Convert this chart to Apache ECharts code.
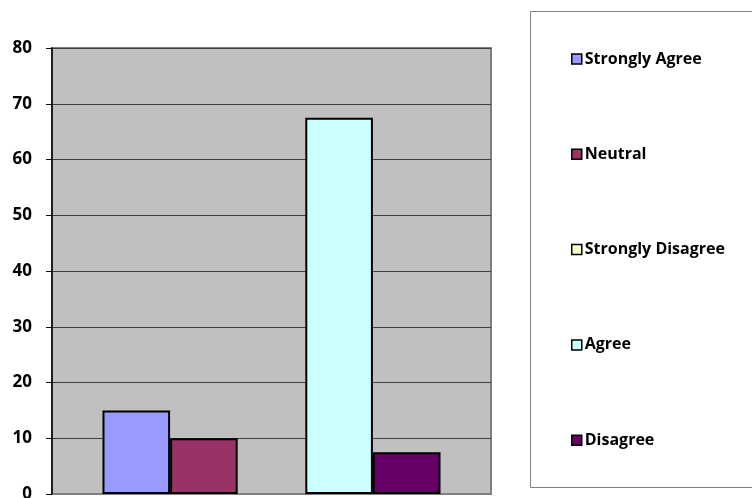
<!DOCTYPE html>
<html>
<head>
<meta charset="utf-8">
<script src="https://cdn.jsdelivr.net/npm/echarts@6/dist/echarts.min.js"></script>
<style>
  html, body { margin: 0; padding: 0; background: #ffffff; }
  #chart { width: 752px; height: 498px; }
</style>
</head>
<body>
<div id="chart"></div>
<script>
// Survey responses, one group of bars
const categories = [''];
const seriesNames = ['Strongly Agree', 'Neutral', 'Strongly Disagree', 'Agree', 'Disagree'];
const seriesValues = [[15], [10], [0], [67.5], [7.5]];
const seriesColors = ['#9999ff', '#993366', '#ffffcc', '#ccffff', '#660066'];
const yTicks = [0, 10, 20, 30, 40, 50, 60, 70, 80];

const FONT = '"Open Sans", "Liberation Sans", sans-serif';

const chart = echarts.init(document.getElementById('chart'), null, { renderer: 'canvas' });

chart.setOption({
  animation: false,
  backgroundColor: '#ffffff',
  graphic: [{
    type: 'rect',
    shape: { x: 530.5, y: 11.5, width: 240, height: 476 },
    style: { fill: '#ffffff', stroke: '#808080', lineWidth: 1 },
    z: -1
  }],
  grid: {
    left: 52, top: 48, right: 261, bottom: 4,
    outerBoundsMode: 'none',
    containLabel: false,
    show: true,
    backgroundColor: '#c0c0c0',
    borderColor: '#808080',
    borderWidth: 2
  },
  legend: {
    orient: 'vertical',
    left: 566,
    top: 46,
    itemWidth: 10,
    itemHeight: 10,
    itemGap: 79.3,
    icon: 'rect',
    data: seriesNames,
    itemStyle: { borderColor: '#000000', borderWidth: 1.5 },
    textStyle: { fontFamily: FONT, fontWeight: 'bold', fontSize: 16, color: '#000000', padding: [0, 0, 0, -2] }
  },
  xAxis: {
    type: 'category',
    data: categories,
    axisLine: { show: true, lineStyle: { color: '#808080', width: 1 } },
    axisTick: { show: false },
    axisLabel: { show: false }
  },
  yAxis: {
    type: 'value',
    min: yTicks[0],
    max: yTicks[yTicks.length - 1],
    interval: 10,
    axisLine: { show: true, lineStyle: { color: '#000000', width: 1.5 } },
    axisTick: { show: true, inside: false, length: 6, lineStyle: { color: '#000000', width: 1 } },
    axisLabel: {
      margin: 20,
      fontFamily: FONT,
      fontWeight: 'bold',
      fontSize: 17,
      color: '#000000'
    },
    splitLine: { show: true, lineStyle: { color: '#404040', width: 1 } }
  },
  series: seriesNames.map((name, i) => ({
    name: name,
    type: 'bar',
    // zero-height bars get no outline so they leave no stray stroke on the axis
    data: seriesValues[i].map(v => v === 0 ? { value: v, itemStyle: { borderWidth: 0 } } : v),
    barGap: '0%',
    barCategoryGap: '23%',
    itemStyle: { color: seriesColors[i], borderColor: '#000000', borderWidth: 2 }
  }))
});
</script>
</body>
</html>
